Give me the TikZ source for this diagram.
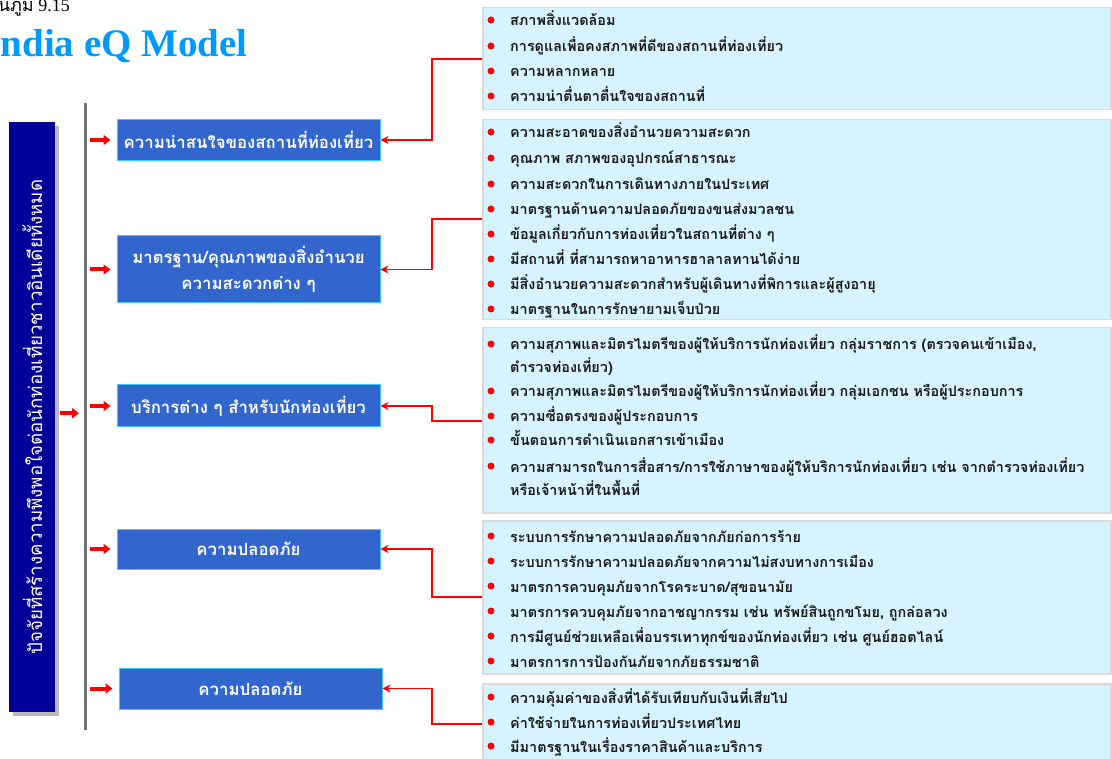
\documentclass[tikz,border=0pt]{standalone}
\usepackage{fontspec}
\setmainfont{Liberation Serif}
\newfontfamily\thai[Script=Thai]{Loma}
\usetikzlibrary{arrows.meta,calc}
\definecolor{navy}{RGB}{0,0,153}
\definecolor{bbox}{RGB}{51,102,204}
\definecolor{bedge}{RGB}{60,200,250}
\definecolor{lbox}{RGB}{214,243,255}
\definecolor{ledge}{RGB}{218,218,218}
\definecolor{ttl}{RGB}{0,153,255}
\definecolor{itemtext}{RGB}{25,25,25}
\newcommand\bul[3]{%
  \fill[red] (491,#2-1) circle (3.5);
  \node[itm] (#1) at (510,#2+5) {#3};}
\begin{document}
\begin{tikzpicture}[x=1pt,y=-1pt,
  bluebox/.style={draw=bedge, line width=1pt, fill=bbox, text=white,
    font=\thai\bfseries\fontsize{16.8}{26}\selectfont, align=center,
    inner sep=0pt, minimum width=263pt},
  lightbox/.style={draw=ledge, line width=1.5pt, fill=lbox, anchor=north west,
    inner sep=0pt, minimum width=628pt},
  itm/.style={anchor=base west, inner sep=0pt, text=itemtext,
    font=\thai\bfseries\fontsize{14.4}{17}\selectfont},
  larr/.style={draw=red, line width=4pt, -{Triangle[length=7pt,width=10pt]}},
  rarr/.style={draw=red, line width=1.6pt, -{Stealth[length=8pt,width=8pt]}}]
\useasboundingbox (0,0) rectangle (1112,759);

% titles
\node[anchor=base east, inner sep=0pt, font=\fontsize{18}{19}\selectfont] (fig) at (70,12) {{\thai แผนภูมิ} 9.15};
\node[anchor=base east, inner sep=0pt, text=ttl, font=\bfseries\fontsize{39}{40}\selectfont] (title) at (248,57) {India eQ Model};

% left vertical box
\fill[black!28] (13,126) rectangle (59,716);
\node[fill=navy, anchor=north west, minimum width=46pt, minimum height=590pt, inner sep=0pt] (main) at (9,122) {};
\node[rotate=90, text=white, inner sep=0pt, font=\thai\fontsize{18.7}{20}\selectfont] (maintext) at (main.center) {ปัจจัยที่สร้างความพึงพอใจต่อนักท่องเที่ยวชาวอินเดียทั้งหมด};

% vertical gray line
\coordinate (ltop) at (85,103);
\coordinate (lbot) at (85,730);
\draw[line width=3pt, black!55] (ltop) -- (lbot);
\draw[larr] ($(main.east)+(5,-4)$) -- ($(ltop |- main.east)+(-6,-4)$);

% blue boxes
\node[bluebox, minimum height=41pt] (b1) at (248.5,140) {ความน่าสนใจของสถานที่ท่องเที่ยว};
\node[bluebox, minimum height=67pt] (b2) at (248.5,269.5) {มาตรฐาน/คุณภาพของสิ่งอำนวย\\ความสะดวกต่าง ๆ};
\node[bluebox, minimum height=42pt] (b3) at (248.5,406) {บริการต่าง ๆ สำหรับนักท่องเที่ยว};
\node[bluebox, minimum height=40pt] (b4) at (248.5,549) {ความปลอดภัย};
\node[bluebox, minimum height=41pt] (b5) at (250.5,688.5) {ความปลอดภัย};

\foreach \b in {b1,b2,b3,b4,b5}
  \draw[larr] ($(ltop |- \b.west)+(5,0)$) -- ($(\b.west)+(-6,0)$);

% light boxes
\node[lightbox, minimum height=102pt] (lb1) at (482,7) {};
\node[lightbox, minimum height=200pt] (lb2) at (482,119) {};
\node[lightbox, minimum height=185pt] (lb3) at (482,327) {};
\node[lightbox, minimum height=153pt] (lb4) at (482,520) {};
\node[lightbox, minimum height=80pt] (lb5) at (482,683) {};

% connectors
\coordinate (c1) at (lb1.west |- 0,59);
\coordinate (c2) at (lb2.west |- 0,219);
\coordinate (c3) at (lb3.west |- 0,421);
\coordinate (c4) at (lb4.west |- 0,597);
\coordinate (c5) at (lb5.west |- 0,724);
\foreach \i in {1,...,5}
  \draw[rarr] (c\i) -- ++(-50,0) |- (b\i.east);

% items box 1
\bul{i11}{21}{สภาพสิ่งแวดล้อม}
\bul{i12}{47}{การดูแลเพื่อคงสภาพที่ดีของสถานที่ท่องเที่ยว}
\bul{i13}{72}{ความหลากหลาย}
\bul{i14}{97}{ความน่าตื่นตาตื่นใจของสถานที่}
% items box 2
\bul{i21}{133}{ความสะอาดของสิ่งอำนวยความสะดวก}
\bul{i22}{159}{คุณภาพ สภาพของอุปกรณ์สาธารณะ}
\bul{i23}{185}{ความสะดวกในการเดินทางภายในประเทศ}
\bul{i24}{210}{มาตรฐานด้านความปลอดภัยของขนส่งมวลชน}
\bul{i25}{235}{ข้อมูลเกี่ยวกับการท่องเที่ยวในสถานที่ต่าง ๆ}
\bul{i26}{260}{มีสถานที่ ที่สามารถหาอาหารฮาลาลทานได้ง่าย}
\bul{i27}{285}{มีสิ่งอำนวยความสะดวกสำหรับผู้เดินทางที่พิการและผู้สูงอายุ}
\bul{i28}{310}{มาตรฐานในการรักษายามเจ็บป่วย}
% items box 3
\bul{i31}{345}{ความสุภาพและมิตรไมตรีของผู้ให้บริการนักท่องเที่ยว กลุ่มราชการ (ตรวจคนเข้าเมือง,}
\node[itm] (i31b) at (510,373) {ตำรวจท่องเที่ยว)};
\bul{i32}{392}{ความสุภาพและมิตรไมตรีของผู้ให้บริการนักท่องเที่ยว กลุ่มเอกชน หรือผู้ประกอบการ}
\bul{i33}{417}{ความซื่อตรงของผู้ประกอบการ}
\bul{i34}{441}{ขั้นตอนการดำเนินเอกสารเข้าเมือง}
\bul{i35}{467}{ความสามารถในการสื่อสาร/การใช้ภาษาของผู้ให้บริการนักท่องเที่ยว เช่น จากตำรวจท่องเที่ยว}
\node[itm] (i35b) at (510,495) {หรือเจ้าหน้าที่ในพื้นที่};
% items box 4
\bul{i41}{537}{ระบบการรักษาความปลอดภัยจากภัยก่อการร้าย}
\bul{i42}{562}{ระบบการรักษาความปลอดภัยจากความไม่สงบทางการเมือง}
\bul{i43}{587}{มาตรการควบคุมภัยจากโรคระบาด/สุขอนามัย}
\bul{i44}{612}{มาตรการควบคุมภัยจากอาชญากรรม เช่น ทรัพย์สินถูกขโมย, ถูกล่อลวง}
\bul{i45}{637}{การมีศูนย์ช่วยเหลือเพื่อบรรเทาทุกข์ของนักท่องเที่ยว เช่น ศูนย์ฮอตไลน์}
\bul{i46}{662}{มาตรการการป้องกันภัยจากภัยธรรมชาติ}
% items box 5
\bul{i51}{698}{ความคุ้มค่าของสิ่งที่ได้รับเทียบกับเงินที่เสียไป}
\bul{i52}{723}{ค่าใช้จ่ายในการท่องเที่ยวประเทศไทย}
\bul{i53}{747}{มีมาตรฐานในเรื่องราคาสินค้าและบริการ}
\end{tikzpicture}
\end{document}
